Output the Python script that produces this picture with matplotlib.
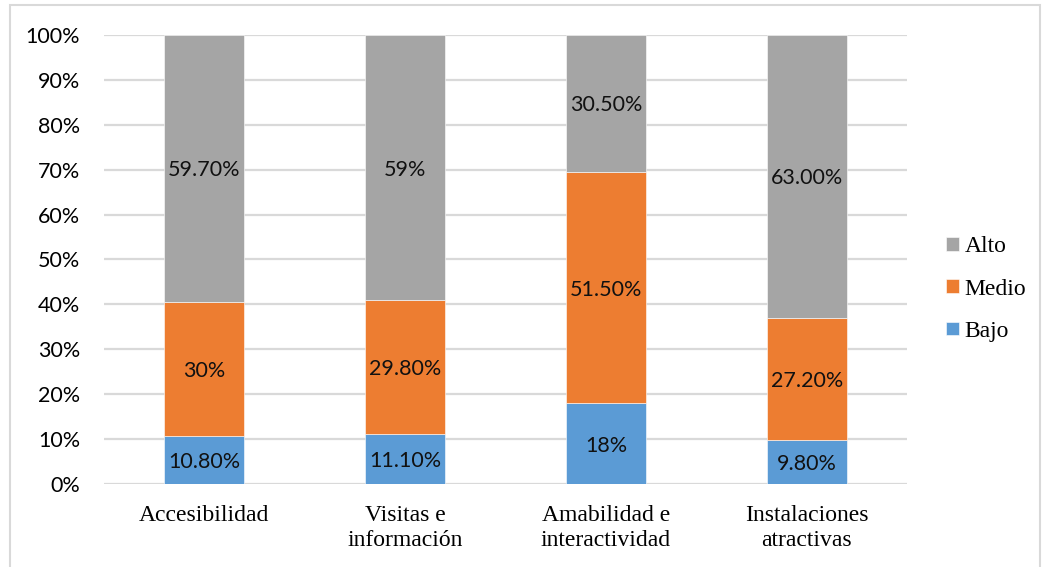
import numpy as np
import matplotlib.pyplot as plt
from matplotlib.patches import Rectangle

# categories and survey shares (%)
categorias = ["Accesibilidad", "Visitas e\ninformación", "Amabilidad e\ninteractividad", "Instalaciones\natractivas"]
bajo = [10.8, 11.1, 18.0, 9.8]
medio = [30.0, 29.8, 51.5, 27.2]
alto = [59.7, 59.0, 30.5, 63.0]
etq_bajo = ["10.80%", "11.10%", "18%", "9.80%"]
etq_medio = ["30%", "29.80%", "51.50%", "27.20%"]
etq_alto = ["59.70%", "59%", "30.50%", "63.00%"]

colores = {"Bajo": "#5B9BD5", "Medio": "#ED7D31", "Alto": "#A5A5A5"}
sans = ["Lato", "DejaVu Sans"]
serif = ["Liberation Serif", "DejaVu Serif"]

# normalise each column to 100 %
tot = np.array(bajo) + np.array(medio) + np.array(alto)
series = [("Bajo", np.array(bajo) / tot * 100, etq_bajo),
          ("Medio", np.array(medio) / tot * 100, etq_medio),
          ("Alto", np.array(alto) / tot * 100, etq_alto)]

fig = plt.figure(figsize=(10.49, 5.67), dpi=100)
ax = fig.add_axes([0.0987, 0.1464, 0.7663, 0.7919])

x = np.arange(len(categorias))
base = np.zeros(len(categorias))
handles = []
for nombre, vals, etqs in series:
    b = ax.bar(x, vals, 0.4, bottom=base, color=colores[nombre], label=nombre,
               edgecolor="white", linewidth=0.4, zorder=2)
    handles.append(b)
    for xi, v, y0, t in zip(x, vals, base, etqs):
        ax.text(xi, y0 + v / 2, t, ha="center", va="center_baseline", fontsize=15.5,
                family=sans, color="#111111", zorder=3)
    base = base + vals

ax.set_xlim(-0.5, len(categorias) - 0.5)
ax.set_ylim(0, 100)
ax.set_yticks(np.arange(0, 101, 10))
ax.set_yticklabels([f"{v}%" for v in range(0, 101, 10)], family=sans, fontsize=15.5)
ax.set_xticks(x)
ax.set_xticklabels(categorias, family=serif, fontsize=17, linespacing=1.25)
ax.tick_params(length=0)
ax.tick_params(axis="y", pad=17)
ax.tick_params(axis="x", pad=15)
ax.grid(axis="y", color="#D9D9D9", linewidth=1.6, zorder=0)
for s in ax.spines.values():
    s.set_visible(False)

leg = fig.legend(handles[::-1], ["Alto", "Medio", "Bajo"], loc="center left",
                 bbox_to_anchor=(0.882, 0.49), frameon=False,
                 prop={"family": serif, "size": 17}, handlelength=0.52,
                 handleheight=0.52, handletextpad=0.25, labelspacing=0.9)

# chart area border
fig.patches.append(Rectangle((10 / 1049, -0.05), 1030 / 1049, 1.05 - 5 / 567,
                             transform=fig.transFigure, fill=False,
                             edgecolor="#D9D9D9", linewidth=1.5))

fig.savefig("out.png", dpi=100)
